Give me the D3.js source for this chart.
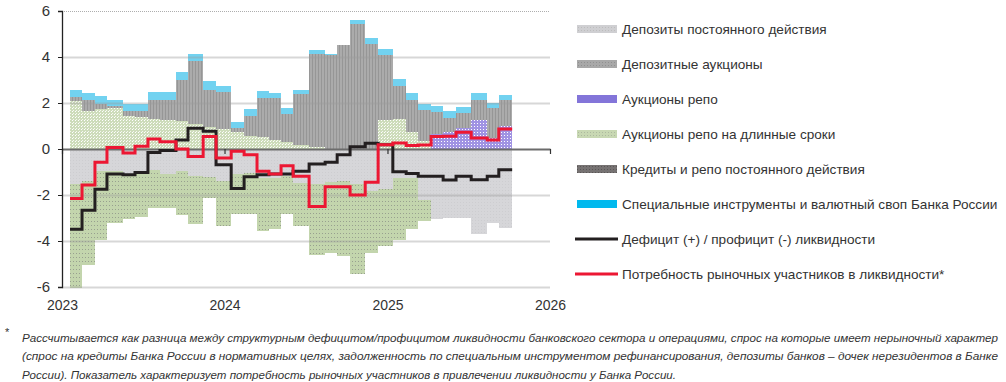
<!DOCTYPE html>
<html>
<head>
<meta charset="utf-8">
<script src="https://cdn.jsdelivr.net/npm/d3@7"></script>
<style>
  body { margin: 0; background: #fff; }
  svg text { font-family: "Liberation Sans", Arial, sans-serif; fill: #333; }
</style>
</head>
<body>
<div id="chart"></div>
<script>
// Reserve maintenance periods (boundaries, 34 dates -> 33 periods)
var periodBounds = [
  '2023-01-19', '2023-02-15', '2023-03-16', '2023-04-12', '2023-05-18', '2023-06-14',
  '2023-07-13', '2023-08-09', '2023-09-14', '2023-10-11', '2023-11-14', '2023-12-13',
  '2024-01-16', '2024-02-14', '2024-03-14', '2024-04-10', '2024-05-07', '2024-06-03',
  '2024-07-09', '2024-08-14', '2024-09-10', '2024-10-09', '2024-11-12', '2024-12-11',
  '2025-01-13', '2025-02-12', '2025-03-11', '2025-04-09', '2025-05-06', '2025-06-04',
  '2025-07-08', '2025-08-13', '2025-09-08', '2025-10-08'
];

// trillion rubles
var longRepo = [2.08, 1.67, 1.75, 1.79, 1.45, 1.38, 1.31, 1.24, 1.21, 1.09, 0.95, 0.87, 0.73, 0.58, 0.51, 0.39, 0.29,
  0.19, 0.07, 0, 0, 0, 0, 1.24, 1.31, 0.73, 0.36, 0, 0, 0, 0, 0, 0];
var repoAuctions = [0, 0, 0, 0, 0, 0, 0, 0, 0, 0, 0, 0, 0, 0, 0, 0, 0,
  0, 0, 0, 0, 0, 0, 0, 0, 0, 0, 0.67, 0.73, 0.92, 1.24, 0.48, 1.02];
var standingCredits = [0, 0, 0, 0, 0, 0, 0, 0, 0, 0, 0, 0, 0, 0, 0, 0, 0,
  0, 0, 0, 0, 0, 0, 0, 0, 0, 0, 0, 0, 0, 0, 0, 0];
var depositAuctions = [0.17, 0.44, 0.21, 0.10, 0.22, 0.29, 0.83, 0.90, 1.77, 2.74, 1.62, 1.60, 0.17, 0.87, 1.72, 1.82, 1.24,
  2.18, 4.05, 4.07, 4.51, 5.43, 4.58, 2.83, 1.41, 1.41, 1.34, 0.94, 0.62, 0.64, 0.91, 1.29, 1.12];
var specialInstr = [0.32, 0.33, 0.34, 0.25, 0.29, 0.29, 0.36, 0.36, 0.37, 0.32, 0.37, 0.25, 0.29, 0.27, 0.29, 0.23, 0.26,
  0.20, 0.20, 0.08, 0, 0.17, 0.26, 0.29, 0.31, 0.30, 0.26, 0.24, 0.29, 0.26, 0.28, 0.22, 0.22];
var standingDeposits = [-1.50, -1.38, -0.97, -0.97, -1.16, -1.09, -0.92, -1.09, -0.97, -1.16, -1.21, -1.38, -1.09, -1.06, -1.24, -1.24, -1.16,
  -1.47, -1.50, -1.45, -1.38, -1.50, -1.82, -1.75, -1.27, -1.27, -2.23, -3.05, -3.01, -3.01, -3.71, -3.20, -3.42];
var longRepoLower = [-4.54, -3.67, -3.00, -2.23, -1.89, -1.86, -1.65, -1.46, -1.90, -2.08, -0.90, -1.97, -1.75, -1.78, -2.32, -2.25, -1.68,
  -1.88, -3.11, -3.06, -3.27, -3.93, -2.69, -2.47, -2.70, -2.19, -0.90, 0, 0, 0, 0, 0, 0];
var liquidityDeficit = [-3.49, -2.66, -1.75, -1.09, -1.12, -1.02, -0.15, -0.07, 0.39, 0.90, 0.77, -0.68, -1.72, -1.21, -1.12, -1.09, -1.09,
  -0.97, -0.65, -0.58, -0.25, 0.10, 0.25, 0.19, -0.99, -1.06, -1.19, -1.19, -1.35, -1.19, -1.34, -1.19, -0.90];
var marketNeed = [-2.15, -1.57, -0.58, 0.07, -0.17, 0.12, 0.44, 0.32, 0.00, -0.33, 0.54, -0.39, -0.10, -0.25, -0.97, -1.09, -0.73,
  -1.19, -2.50, -1.64, -1.64, -2.00, -1.45, 0.19, 0.26, 0.15, 0.17, 0.54, 0.55, 0.73, 0.48, 0.39, 0.87];

var yTicks = [-6, -4, -2, 0, 2, 4, 6];
var yearTicks = ['2023-01-01', '2024-01-01', '2025-01-01', '2026-01-01'];

var legendLabels = [
  'Депозиты постоянного действия',
  'Депозитные аукционы',
  'Аукционы репо',
  'Аукционы репо на длинные сроки',
  'Кредиты и репо постоянного действия',
  'Специальные инструменты и валютный своп Банка России',
  'Дефицит (+) / профицит (-) ликвидности',
  'Потребность рыночных участников в ликвидности*'
];
var footnoteLines = [
  'Рассчитывается как разница между структурным дефицитом/профицитом ликвидности банковского сектора и операциями, спрос на которые имеет нерыночный характер',
  '(спрос на кредиты Банка России в нормативных целях, задолженность по специальным инструментом рефинансирования, депозиты банков – дочек нерезидентов в Банке',
  'России). Показатель характеризует потребность рыночных участников в привлечении ликвидности у Банка России.'
];

// Layout
var plot = {left: 62, right: 550, top: 11, bottom: 287};
var parseDate = d3.timeParse('%Y-%m-%d');
var bounds = periodBounds.map(parseDate);

var x = d3.scaleTime()
  .domain([parseDate('2023-01-01'), parseDate('2026-01-01')])
  .range([plot.left, plot.right]);
var y = d3.scaleLinear().domain([-6, 6]).range([plot.bottom, plot.top]);

var svg = d3.select('#chart').append('svg')
  .attr('width', 1006)
  .attr('height', 382);

// Fill textures
var defs = svg.append('defs');
function texture(id, w, h, base, dots) {
  var p = defs.append('pattern')
    .attr('id', id)
    .attr('patternUnits', 'userSpaceOnUse')
    .attr('width', w)
    .attr('height', h);
  p.append('rect').attr('width', w).attr('height', h).attr('fill', base);
  dots.forEach(function(d) {
    p.append('rect').attr('x', d[0]).attr('y', d[1]).attr('width', d[2]).attr('height', d[3]).attr('fill', d[4]);
  });
}
texture('tStripes', 3, 3, '#ababab', [[0, 0, 1, 3, '#969696']]);
texture('tPale', 3, 3, '#cddcba', [[0, 0, 1, 1, '#ffffff'], [1, 2, 1, 1, '#f4f7ef']]);
texture('tGreen', 3, 4, '#c3d5ad', [[1, 1, 1, 1, '#98a08f']]);
texture('tPurple', 3, 3, '#a093e3', [[0, 0, 1, 1, '#ffffff']]);
texture('tStanding', 3, 3, '#d6d6d9', [[1, 1, 1, 1, '#cdcdd0']]);
texture('tCredits', 3, 3, '#767272', [[0, 0, 1, 1, '#5a5656']]);
texture('tLegGray', 3, 3, '#cfcfd2', [[1, 1, 1, 1, '#bdbdbd']]);
texture('tLegDep', 3, 3, '#a8a8a8', [[1, 1, 1, 1, '#909090']]);
texture('tLegGreen', 3, 3, '#c8d8b3', [[1, 1, 1, 1, '#adb99f']]);

var seriesDefs = [
  {key: 'longRepo', values: longRepo, fill: 'url(#tPale)'},
  {key: 'repoAuctions', values: repoAuctions, fill: 'url(#tPurple)'},
  {key: 'standingCredits', values: standingCredits, fill: 'url(#tCredits)'},
  {key: 'depositAuctions', values: depositAuctions, fill: 'url(#tStripes)'},
  {key: 'specialInstr', values: specialInstr, fill: '#72d2f0'},
  {key: 'standingDeposits', values: standingDeposits, fill: 'url(#tStanding)'},
  {key: 'longRepoLower', values: longRepoLower, fill: 'url(#tGreen)'}
];

var rows = d3.range(bounds.length - 1).map(function(i) {
  var row = {i: i};
  seriesDefs.forEach(function(s) { row[s.key] = s.values[i]; });
  return row;
});

var stack = d3.stack()
  .keys(seriesDefs.map(function(s) { return s.key; }))
  .offset(d3.stackOffsetDiverging);
var layers = stack(rows);

// Bars
var barsG = svg.append('g').attr('shape-rendering', 'crispEdges');
layers.forEach(function(layer, k) {
  barsG.append('g')
    .attr('fill', seriesDefs[k].fill)
    .selectAll('rect')
    .data(layer)
    .enter().append('rect')
    .attr('x', function(d) { return x(bounds[d.data.i]); })
    .attr('width', function(d) { return x(bounds[d.data.i + 1]) - x(bounds[d.data.i]); })
    .attr('y', function(d) { return y(Math.max(d[0], d[1])); })
    .attr('height', function(d) { return Math.abs(y(d[0]) - y(d[1])); });
});

// Gridlines (over bars, translucent)
var grid = svg.append('g')
  .attr('transform', 'translate(' + plot.left + ',0)')
  .call(d3.axisLeft(y).tickValues(yTicks.filter(function(t) { return t !== 0; }))
    .tickSize(-(plot.right - plot.left)).tickFormat(''));
grid.select('.domain').remove();
grid.selectAll('.tick line')
  .attr('stroke', '#9a9a9a')
  .attr('stroke-opacity', 0.4)
  .attr('stroke-width', 2);
grid.selectAll('.tick')
  .filter(function(d) { return d === 6; })
  .select('line')
  .attr('stroke-width', 1)
  .attr('stroke-dasharray', '1,1')
  .attr('stroke-opacity', 0.8);

// Zero line with year ticks
var zeroAxis = svg.append('g')
  .attr('transform', 'translate(0,' + y(0) + ')')
  .call(d3.axisBottom(x).tickValues(yearTicks.map(parseDate)).tickSize(5).tickSizeOuter(0).tickFormat(''));
zeroAxis.select('.domain').attr('stroke', '#6c6c6c').attr('stroke-width', 2);
zeroAxis.selectAll('.tick line').attr('stroke', '#333').attr('stroke-width', 1.2);

// Year labels
var xLabels = svg.append('g')
  .attr('transform', 'translate(0,' + plot.bottom + ')')
  .call(d3.axisBottom(x).tickValues(yearTicks.map(parseDate)).tickSize(0).tickPadding(13)
    .tickFormat(d3.timeFormat('%Y')));
xLabels.select('.domain').remove();
xLabels.selectAll('text').style('font-size', '14px').attr('fill', '#333');

// Left axis
var yAxisG = svg.append('g')
  .attr('transform', 'translate(' + plot.left + ',0)')
  .call(d3.axisLeft(y).tickValues(yTicks).tickSize(4).tickSizeOuter(4).tickPadding(8)
    .tickFormat(function(d) { return d; }));
yAxisG.select('.domain').attr('stroke', '#222').attr('stroke-width', 1.3);
yAxisG.selectAll('.tick line').attr('stroke', '#222');
yAxisG.selectAll('text').style('font-size', '15px').attr('fill', '#333');

// Step lines
function stepPoints(values) {
  var pts = values.map(function(v, i) { return [bounds[i], v]; });
  pts.push([bounds[bounds.length - 1], values[values.length - 1]]);
  return pts;
}
var line = d3.line()
  .curve(d3.curveStepAfter)
  .x(function(d) { return x(d[0]); })
  .y(function(d) { return y(d[1]); });

svg.append('path')
  .attr('d', line(stepPoints(liquidityDeficit)))
  .attr('fill', 'none')
  .attr('stroke', '#231f20')
  .attr('stroke-width', 3);
svg.append('path')
  .attr('d', line(stepPoints(marketNeed)))
  .attr('fill', 'none')
  .attr('stroke', '#ec1733')
  .attr('stroke-width', 3);

// Legend
var legendItems = [
  {type: 'rect', fill: 'url(#tLegGray)'},
  {type: 'rect', fill: 'url(#tLegDep)'},
  {type: 'rect', fill: '#8375d9'},
  {type: 'rect', fill: 'url(#tLegGreen)'},
  {type: 'rect', fill: 'url(#tCredits)'},
  {type: 'rect', fill: '#00b9ee'},
  {type: 'line', stroke: '#231f20'},
  {type: 'line', stroke: '#ec1733'}
];
var legend = svg.append('g').attr('transform', 'translate(577,29)');
legendItems.forEach(function(item, i) {
  var g = legend.append('g').attr('transform', 'translate(0,' + (i * 35) + ')');
  if (item.type === 'rect') {
    g.append('rect').attr('x', 0).attr('y', -4).attr('width', 40).attr('height', 8).attr('fill', item.fill);
  } else {
    g.append('line').attr('x1', -2).attr('x2', 41).attr('y1', 0).attr('y2', 0)
      .attr('stroke', item.stroke).attr('stroke-width', 3);
  }
  g.append('text')
    .attr('x', 45)
    .attr('y', 0)
    .attr('dy', '0.35em')
    .style('font-size', '13.6px')
    .attr('fill', '#333')
    .text(legendLabels[i]);
});

// Footnote
var foot = svg.append('g');
foot.append('text')
  .attr('x', 5).attr('y', 336)
  .style('font-size', '11px')
  .attr('fill', '#555')
  .text('*');
var footWidths = [976, 976, 654];
footnoteLines.forEach(function(t, i) {
  foot.append('text')
    .attr('x', 22)
    .attr('y', 338 + i * 18.5)
    .attr('dy', '0.35em')
    .attr('textLength', footWidths[i])
    .attr('lengthAdjust', 'spacingAndGlyphs')
    .style('font-size', '11.4px')
    .style('font-style', 'italic')
    .attr('fill', '#333')
    .text(t);
});
</script>
</body>
</html>
